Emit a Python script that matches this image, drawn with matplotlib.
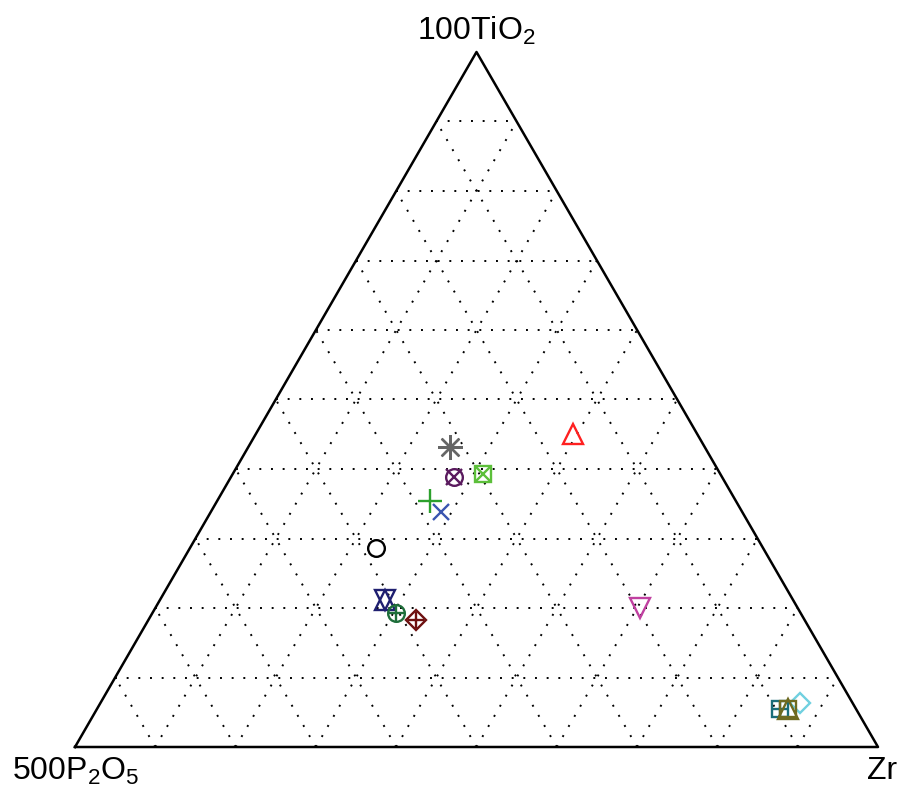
import numpy as np
import matplotlib
matplotlib.use("Agg")
import matplotlib.pyplot as plt

plt.rcParams['font.family'] = ['Liberation Sans Narrow', 'Liberation Sans', 'DejaVu Sans']
plt.rcParams['mathtext.fontset'] = 'custom'
plt.rcParams['mathtext.rm'] = 'Liberation Sans'
plt.rcParams['mathtext.it'] = 'Liberation Sans'

# sample compositions as fractions (TiO2*100, Zr, P2O5*500)
ti = [0.432, 0.389, 0.393, 0.354, 0.338, 0.286, 0.212, 0.193, 0.183, 0.450, 0.200, 0.063, 0.055, 0.055]
zr = [0.251, 0.277, 0.312, 0.265, 0.287, 0.232, 0.280, 0.303, 0.333, 0.395, 0.604, 0.871, 0.850, 0.861]
colors = ['#666666', '#5a1a5e', '#5cbf3a', '#2ca02c', '#3a55b0', 'black', '#1f1f70',
          '#1e6e3a', '#6e1010', '#ff2020', '#c040a0', '#70d0e0', '#1a6e7a', '#6e6a20']
# each sample drawn as one or two overlaid marker glyphs
markers = [['ast'], ['o', 'x'], ['s', 'x'], ['+'], ['x'], ['o'], ['^', 'v'],
           ['o', '+'], ['D', '+'], ['^'], ['v'], ['D'], ['s', '+'], ['s', '^']]
sizes = {'ast': 18, 'o': 12, 'x': 12, 's': 11.5, '+': 12, '^': 14, 'v': 14, 'D': 10}

def to_xy(t, z):
    t = np.asarray(t)
    z = np.asarray(z)
    return z + t / 2, t * np.sqrt(3) / 2

fig = plt.figure(figsize=(9.06, 7.87), dpi=100)
ax = fig.add_axes([75 / 906, 40 / 787, 803 / 906, 695 / 787])
h = np.sqrt(3) / 2
ax.set_xlim(0, 1)
ax.set_ylim(0, h)
ax.axis('off')

# grid
dots = dict(color='black', ls=(0, (1, 5)), lw=1.4)
for k in np.arange(1, 10) / 10:
    x0, y0 = to_xy(k, 0)
    x1, y1 = to_xy(k, 1 - k)
    ax.plot([x0, x1], [y0, y1], **dots)
    x0, y0 = to_xy(0, k)
    x1, y1 = to_xy(1 - k, k)
    ax.plot([x0, x1], [y0, y1], **dots)
    x0, y0 = to_xy(0, 1 - k)
    x1, y1 = to_xy(1 - k, 0)
    ax.plot([x0, x1], [y0, y1], **dots)

ax.plot([0, 1, 0.5, 0], [0, 0, h, 0], color='black', lw=1.8, clip_on=False)

x, y = to_xy(ti, zr)
for i in range(len(ti)):
    for m in markers[i]:
        ms = sizes[m]
        if m == '+' and len(markers[i]) == 1:
            ms = 17
        if m == 'x' and len(markers[i]) == 1:
            ms = 12
        mk = (8, 2, 0) if m == 'ast' else m
        ax.plot(x[i], y[i], marker=mk, ms=ms, mfc='none', mec=colors[i], mew=1.7,
                ls='none', clip_on=False)

fig.text(476 / 906, 1 - 31 / 787, r'100TiO$_2$', ha='center', va='center', fontsize=23)
fig.text(12 / 906, 1 - 771 / 787, r'500P$_2$O$_5$', ha='left', va='center', fontsize=23)
fig.text(897 / 906, 1 - 771 / 787, 'Zr', ha='right', va='center', fontsize=23)

fig.savefig('out.png', dpi=100)
